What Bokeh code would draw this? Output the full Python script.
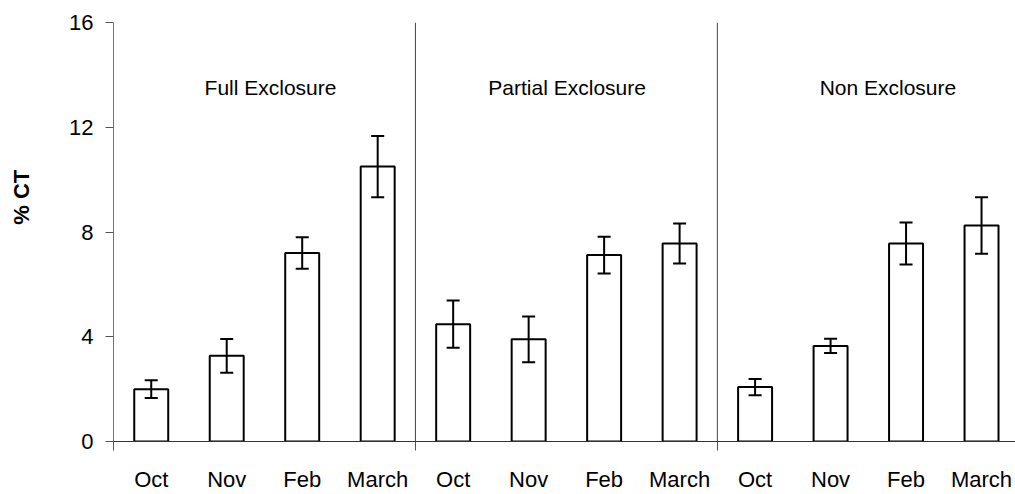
from bokeh.plotting import figure
from bokeh.layouts import row
from bokeh.models import Range1d, FixedTicker, Span, Label, ColumnDataSource, Whisker, TeeHead
from bokeh.core.properties import value
from bokeh.embed import file_html
from bokeh.resources import INLINE

# ---- data ----
groups = ["Full Exclosure", "Partial Exclosure", "Non Exclosure"]
months = ["Oct", "Nov", "Feb", "March"]
full_vals = [2.0, 3.27, 7.2, 10.5]
full_err = [0.34, 0.64, 0.6, 1.17]
partial_vals = [4.48, 3.9, 7.12, 7.56]
partial_err = [0.9, 0.87, 0.7, 0.76]
non_vals = [2.08, 3.65, 7.56, 8.25]
non_err = [0.31, 0.27, 0.8, 1.08]
y_ticks = [0, 4, 8, 12, 16]
y_label = "% CT"

vals = full_vals + partial_vals + non_vals
errs = full_err + partial_err + non_err
xs = list(range(len(vals)))
labels = months * len(groups)

src = ColumnDataSource(dict(
    x=xs, top=vals,
    upper=[v + e for v, e in zip(vals, errs)],
    lower=[v - e for v, e in zip(vals, errs)],
))

FONT = "Liberation Sans"
W, H = 1015, 494
LW = 44  # width of the narrow label panel

# narrow panel holding the rotated y-axis title
pl = figure(width=LW, height=H, output_backend="svg", toolbar_location=None,
            x_range=Range1d(0, LW), y_range=Range1d(0, H),
            min_border=0, x_axis_type=None, y_axis_type=None)
pl.outline_line_color = None
pl.grid.visible = False
pl.text(x=[21], y=[H - 206], text=[y_label], angle=1.5708,
        text_align="center", text_baseline="middle",
        text_font=value(FONT), text_font_size="22px",
        text_font_style="bold", text_color="black")

p = figure(width=W - LW, height=H, output_backend="svg", toolbar_location=None,
           x_range=Range1d(-0.5, 11.45), y_range=Range1d(0, 16),
           min_border_left=113 - LW, min_border_right=0, min_border_top=22, min_border_bottom=51)
p.outline_line_color = None
p.grid.visible = False
p.background_fill_color = "white"
p.border_fill_color = "white"

p.vbar(x="x", top="top", bottom=0, width=0.45, source=src,
       fill_color="white", line_color="black", line_width=2)

w = Whisker(source=src, base="x", upper="upper", lower="lower", level="overlay",
            line_color="black", line_width=2,
            upper_head=TeeHead(size=13, line_color="black", line_width=2),
            lower_head=TeeHead(size=13, line_color="black", line_width=2))
p.add_layout(w)

n = len(months)
for gi in range(1, len(groups)):
    p.add_layout(Span(location=gi * n - 0.5, dimension="height",
                      line_color="#444444", line_width=1))

# group labels
group_x = [1.58, 5.51, 9.76]
for name, gx in zip(groups, group_x):
    p.add_layout(Label(x=gx, y=13.53, text=name, text_align="center",
                       text_baseline="alphabetic", text_font=FONT,
                       text_font_size="21px", text_color="black"))

# x axis
xa = p.xaxis[0]
xa.ticker = FixedTicker(ticks=xs, minor_ticks=[g * n - 0.5 for g in range(len(groups) + 1)])
xa.major_label_overrides = {x: l for x, l in zip(xs, labels)}
xa.major_tick_out = 0
xa.major_tick_in = 0
xa.minor_tick_out = 9
xa.minor_tick_in = 0
xa.minor_tick_line_color = "#555555"
xa.axis_line_color = "#333333"
xa.axis_line_width = 1
xa.major_label_text_font = FONT
xa.major_label_text_font_size = "22px"
xa.major_label_text_color = "black"
xa.major_label_standoff = 16

# y axis
ya = p.yaxis[0]
ya.ticker = FixedTicker(ticks=y_ticks)
ya.minor_tick_out = 0
ya.minor_tick_in = 0
ya.major_tick_out = 8
ya.major_tick_in = 0
ya.axis_line_color = "#777777"
ya.major_tick_line_color = "#555555"
ya.major_label_text_font = FONT
ya.major_label_text_font_size = "22px"
ya.major_label_text_color = "black"
ya.major_label_standoff = 12

layout = row(pl, p, spacing=0)
open("out.html", "w").write(file_html(layout, INLINE))
